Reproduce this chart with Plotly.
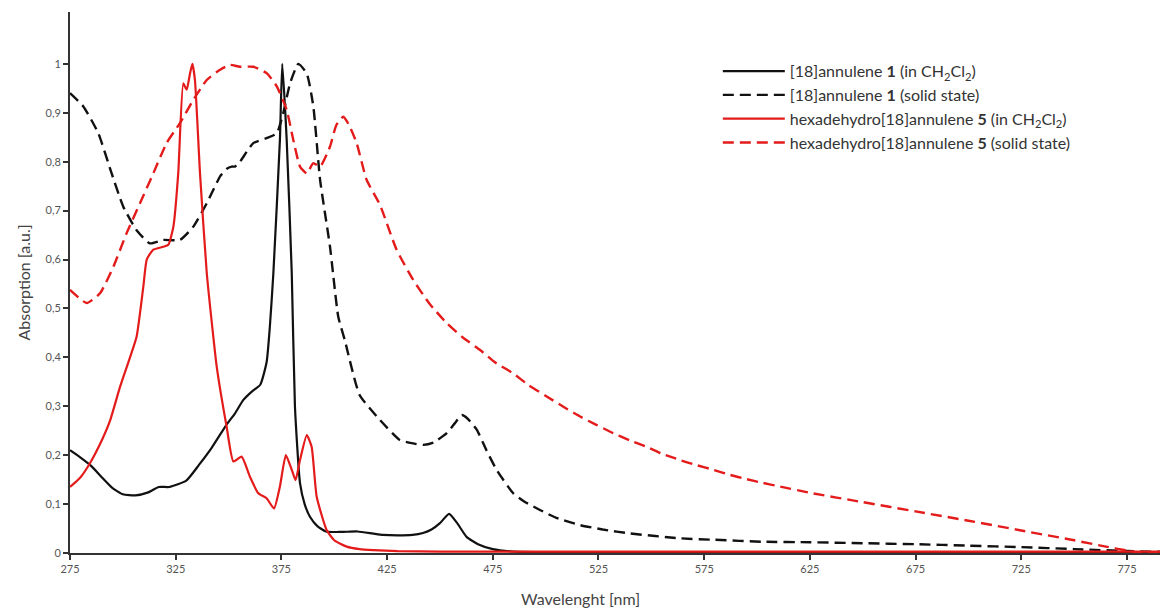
import plotly.graph_objects as go

# ---- data ----
bs_x = [275,280,285,290,295,300,306,312,317,322,330,336,342,349,353,357,361,365,368,369.5,371.2,374.3,375.4,
        377.5,379.9,381.4,383.8,386,388.5,392,396,403,411,418,423,430,437,442,446,450,454.3,458,462.6,468,475,
        485,500,550,600,650,700,750,795]
bs_y = [0.21,0.195,0.178,0.155,0.133,0.12,0.118,0.124,0.135,0.135,0.148,0.18,0.215,0.262,0.285,0.313,0.33,0.344,
        0.39,0.46,0.572,0.845,1.0,0.845,0.572,0.3,0.143,0.1,0.074,0.055,0.044,0.043,0.044,0.04,0.037,0.036,0.037,
        0.041,0.048,0.061,0.08,0.062,0.033,0.018,0.008,0.003,0.002,0.001,0.001,0.001,0.001,0.001,0.001]

bd_x = [275,281.3,288.4,294.7,300.2,306.5,312.8,319.1,327,333.3,339.7,346,349,351.5,353,355.4,361.7,368,372.8,
        375.9,379.1,383,387,390.1,393.3,398,401.9,405,412,421.6,431,436,442.1,447,453.2,457,460.3,463,467.4,472,
        476.8,484.7,490,497.3,505,516.3,527,539.9,563.6,580,602.9,625,650,675,700,725,750,775,795]
bd_y = [0.94,0.913,0.858,0.776,0.708,0.66,0.633,0.64,0.64,0.667,0.715,0.77,0.785,0.79,0.79,0.80,0.838,0.848,0.858,
        0.9,0.96,1.0,0.98,0.913,0.763,0.626,0.483,0.435,0.323,0.272,0.231,0.225,0.221,0.226,0.245,0.265,0.282,
        0.275,0.252,0.21,0.17,0.122,0.105,0.088,0.072,0.057,0.048,0.04,0.03,0.027,0.023,0.022,0.02,0.018,0.015,
        0.012,0.008,0.004,0.002]

rs_x = [275,280,284.5,290,293.9,298.7,303.4,306.5,309.7,311.3,314.4,319.1,321.5,323.9,326.2,328.6,330.2,331.8,
        332.9,334.1,336.5,339.7,342.8,344.4,349.1,352.3,356.2,360.1,364.1,368,371.5,374.3,377.1,379.9,381.7,
        383.8,387,389.3,391.7,396.4,400,405.9,412,418.5,430,450,500,600,700,795]
rs_y = [0.135,0.155,0.184,0.23,0.27,0.34,0.40,0.442,0.545,0.6,0.62,0.626,0.63,0.667,0.776,0.96,0.947,0.981,1.0,
        0.967,0.776,0.572,0.442,0.381,0.258,0.187,0.197,0.156,0.122,0.112,0.091,0.136,0.2,0.17,0.149,0.19,0.241,
        0.217,0.115,0.047,0.026,0.013,0.008,0.006,0.004,0.003,0.003,0.003,0.003,0.003]

rd_x = [275,282.9,289.2,295.5,301.8,308.1,314.4,320.7,327,333.3,339.7,346,350.7,355.4,361.7,368,372.8,377.5,
        380.6,383.8,387,390.1,393.3,398,401,404.3,407,410.6,415.3,421.6,429.5,437.4,445,453.2,461,469,476,484.7,
        492,500.5,508,516.3,524,532,540,547.8,555,563.6,571,579.4,587,595.1,602,610.8,625,650,675,700,725,750,
        765,775,782,795]
rd_y = [0.538,0.511,0.531,0.585,0.654,0.715,0.776,0.838,0.879,0.926,0.967,0.988,0.998,0.994,0.994,0.981,0.954,
        0.906,0.845,0.79,0.776,0.797,0.79,0.831,0.875,0.892,0.875,0.838,0.763,0.712,0.62,0.558,0.51,0.47,0.44,
        0.415,0.39,0.367,0.343,0.32,0.3,0.279,0.262,0.245,0.23,0.217,0.203,0.19,0.18,0.17,0.16,0.151,0.144,
        0.136,0.123,0.104,0.085,0.066,0.046,0.026,0.013,0.005,0.0,0.0]

names = [
    "[18]annulene <b>1</b> (in CH<sub>2</sub>Cl<sub>2</sub>)",
    "[18]annulene <b>1</b> (solid state)",
    "hexadehydro[18]annulene <b>5</b> (in CH<sub>2</sub>Cl<sub>2</sub>)",
    "hexadehydro[18]annulene <b>5</b> (solid state)",
]
x_ticks = [275, 325, 375, 425, 475, 525, 575, 625, 675, 725, 775]
y_ticks = [0, 0.1, 0.2, 0.3, 0.4, 0.5, 0.6, 0.7, 0.8, 0.9, 1]

BLACK = "#111111"
RED = "#e41b1b"
DASH = "11px,6px"

fig = go.Figure()
for xs, ys, nm, col, dash, w in [
    (bs_x, bs_y, names[0], BLACK, None, 2.2),
    (bd_x, bd_y, names[1], BLACK, DASH, 2.4),
    (rs_x, rs_y, names[2], RED, None, 2.2),
    (rd_x, rd_y, names[3], RED, DASH, 2.4),
]:
    fig.add_trace(go.Scatter(x=xs, y=ys, mode="lines", name=nm,
                             line=dict(color=col, width=w, dash=dash,
                                       shape="spline", smoothing=0.5)))

# page body has an 8px margin, so the figure is 8px smaller than the window
fig.update_layout(
    width=1160, height=603,
    margin=dict(l=62, r=0, t=4, b=58),
    paper_bgcolor="white", plot_bgcolor="white",
    separators=",.",
    font=dict(family="Lato, 'Open Sans', sans-serif", color="#444"),
    showlegend=True,
    legend=dict(x=0.59, y=0.922, xanchor="left", yanchor="top",
                bgcolor="rgba(0,0,0,0)", font=dict(size=16, color="#333"),
                itemwidth=62, tracegroupgap=0),
    xaxis=dict(range=[275, 794.4], tickvals=x_ticks, ticks="outside", ticklen=5,
               tickwidth=1.5, tickcolor="#333", showline=True, linecolor="#333",
               linewidth=2, showgrid=False, zeroline=False,
               tickfont=dict(size=11, color="#555")),
    yaxis=dict(range=[0, 1.106], tickvals=y_ticks, ticks="outside", ticklen=5,
               tickwidth=1.5, tickcolor="#333", showline=True, linecolor="#333",
               linewidth=2, showgrid=False, zeroline=False,
               tickfont=dict(size=11, color="#555"),
               title=dict(text="Absorption [a.u.]", font=dict(size=16, color="#444"),
                          standoff=11)),
)
fig.add_annotation(text="Wavelenght [nm]", xref="paper", yref="paper",
                   x=(572 - 62) / 1098, y=-0.085, xanchor="center", yanchor="middle",
                   showarrow=False, font=dict(size=16, color="#444"))

fig.write_html("out.html")
